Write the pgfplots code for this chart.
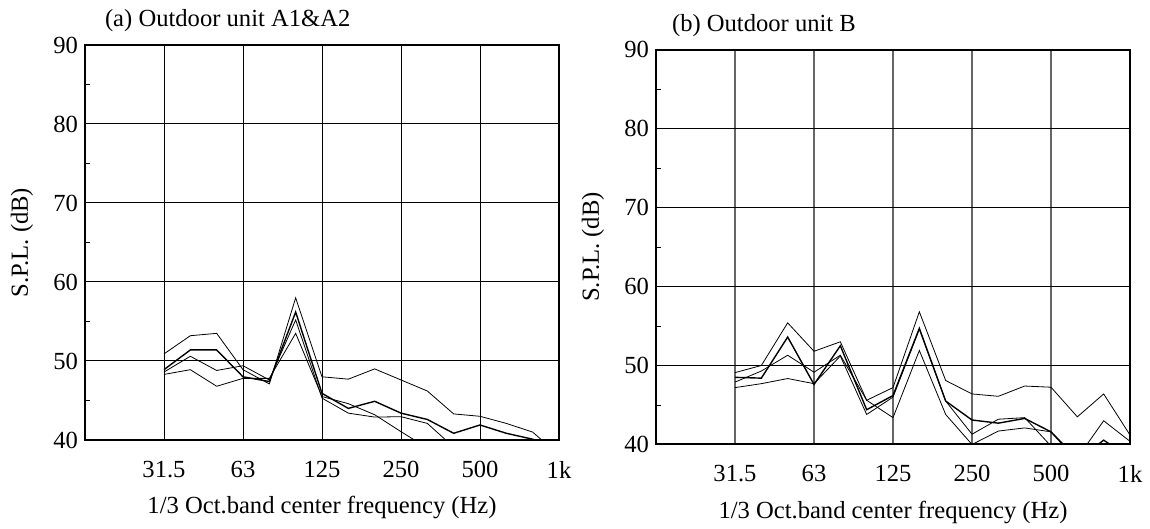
\documentclass[border=0pt]{standalone}
\usepackage{fontspec}
\setmainfont{Liberation Serif}
\usepackage{pgfplots}
\usepackage{pgfplotstable}
\pgfplotsset{compat=1.18}

% band index k: 0 = 31.5 Hz, 3 = 63 Hz, ... 15 = 1 kHz
\pgfplotstableread{
k  a     b     c     d
0  50.9  48.9  48.6  48.3
1  53.2  51.4  50.6  48.9
2  53.5  51.4  48.8  46.8
3  48.9  48.0  49.4  47.8
4  47.1  47.4  47.6  47.8
5  58.0  56.2  55.2  53.5
6  48.0  45.9  45.3  45.5
7  47.7  44.0  43.4  44.6
8  49.0  44.9  42.9  43.2
9  47.6  43.4  42.95 41.05
10 46.2  42.6  42.1  39.0
11 43.3  40.85 39.1  nan
12 43.0  41.9  nan   nan
13 42.1  40.85 nan   nan
14 41.0  40.1  nan   nan
15 38.1  39.0  nan   nan
}\unitA

\pgfplotstableread{
k  a     b     c     d
0  49.1  48.5  47.9  47.2
1  50.0  48.4  49.3  47.7
2  55.4  53.6  51.3  48.35
3  51.8  47.6  49.15 47.7
4  53.0  52.5  51.3  51.2
5  45.6  44.4  45.6  43.8
6  47.2  46.2  43.4  46.0
7  56.8  54.7  51.9  54.6
8  48.1  45.5  43.8  45.5
9  46.4  43.1  40.0  41.3
10 46.1  42.7  41.7  43.2
11 47.4  43.3  42.1  43.4
12 47.25 41.6  41.6  39.8
13 43.5  38.0  38.3  37.5
14 46.4  40.55 43.0  nan
15 41.2  38.3  40.4  nan
}\unitB

\pgfplotsset{
  band/.style={
    scale only axis, width=237pt, height=197.5pt,
    xmin=-3, xmax=15, ymin=40, ymax=90,
    xtick={0,3,...,15}, xticklabels={31.5,63,125,250,500,1k},
    ytick={40,50,...,90}, minor ytick={45,55,...,85},
    extra y ticks={60}, extra y tick labels={},
    extra tick style={grid style={line width=1pt}},
    grid=major, major grid style={black, line width=0.5pt},
    axis line style={line width=1pt},
    tick style={black},
    major tick length=0pt, minor tick length=2.5pt, tick align=inside,
    ytick pos=left, xtick pos=bottom,
    font=\fontsize{12.3}{14}\selectfont,
    /pgf/number format/assume math mode=true,
    xticklabel style={yshift=-7pt},
    xlabel={1/3 Oct.band center frequency (Hz)},
    ylabel={S.P.L. (dB)},
    ylabel style={at={(axis description cs:-0.133,0.5)}, anchor=center},
    cycle list={{black, line width=0.7pt, mark=none}},
  }
}

\begin{document}
\begin{tikzpicture}
\path[use as bounding box] (0,0) rectangle (575pt,264.5pt);

\begin{axis}[band, at={(42.5pt,44.5pt)}, anchor=south west,
  xlabel style={at={(axis description cs:0.5,-0.17)}, anchor=center},
  title={(a) Outdoor unit A1\&A2},
  title style={at={(axis description cs:0.0274,1.032)}, anchor=west}]
  \addplot table[x=k, y=a] {\unitA};
  \addplot table[x=k, y=b] {\unitA};
  \addplot table[x=k, y=c] {\unitA};
  \addplot table[x=k, y=d] {\unitA};
\end{axis}

\begin{axis}[band, at={(328pt,42.25pt)}, anchor=south west,
  every axis x grid/.style={black!60, line width=0.6pt},
  xlabel style={at={(axis description cs:0.5,-0.171)}, anchor=center},
  title={(b) Outdoor unit B},
  title style={at={(axis description cs:0.019,1.030)}, anchor=west}]
  \addplot table[x=k, y=a] {\unitB};
  \addplot table[x=k, y=b] {\unitB};
  \addplot table[x=k, y=c] {\unitB};
  \addplot table[x=k, y=d] {\unitB};
\end{axis}
\end{tikzpicture}
\end{document}
